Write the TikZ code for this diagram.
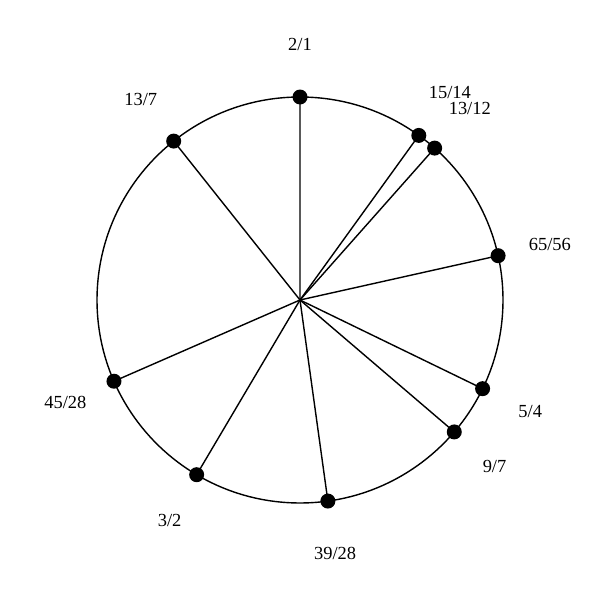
\documentclass[tikz,border=0pt]{standalone}
\usepackage{fontspec}
\setmainfont{Liberation Serif}
\usetikzlibrary{calc}

\tikzset{
  dot/.style={circle, fill=black, inner sep=0pt, minimum size=0.3cm},
  ratio/.style={font=\fontsize{10.5}{12}\selectfont, inner sep=0pt}
}

\begin{document}
\begin{tikzpicture}
    \useasboundingbox (0,0) rectangle (12,12);
    \coordinate (ctr) at (6,6);
    \draw[line width=0.8pt] (ctr) circle (4.06);
    \foreach \num/\den/\nm in {2/1/a, 15/14/b, 13/12/c, 65/56/d, 5/4/e,
                               9/7/f, 39/28/g, 3/2/h, 45/28/i, 13/7/j}
        {
          \pgfmathsetmacro{\ang}{90-360*ln(\num/\den)/ln(2)}
          \node[dot] (p\nm) at ($(ctr)+(\ang:4.06)$) {};
          \draw[line width=0.8pt] (ctr) -- (p\nm.center);
          \node[ratio] (l\nm) at ($(ctr)+(\ang:5.12)$) {\num/\den};
        };
\end{tikzpicture}
\end{document}
